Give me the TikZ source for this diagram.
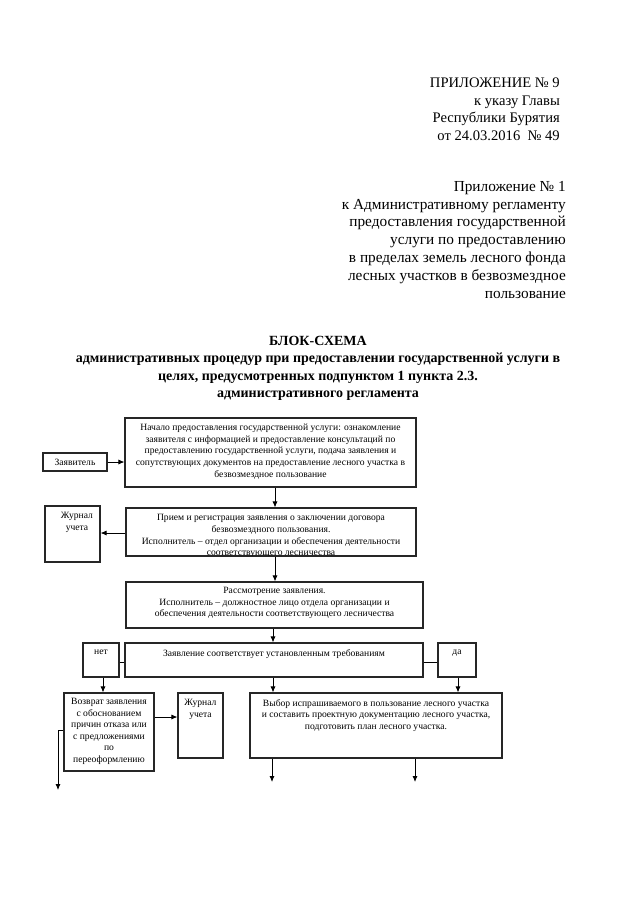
\documentclass[tikz,border=0pt]{standalone}
\usepackage{fontspec}
\setmainfont{Liberation Serif}
\usetikzlibrary{arrows.meta}
\begin{document}
\begin{tikzpicture}[x=1pt,y=1pt,
  box/.style={draw=black!85, line width=1.1pt, rectangle, inner sep=0pt},
  btxt/.style={font=\fontsize{9.6}{11.6}\selectfont, align=center, inner sep=0pt, anchor=north},
  arr/.style={line width=0.8pt, -{Latex[length=6pt,width=5pt]}},
  ln/.style={line width=0.8pt},
  hdr/.style={font=\fontsize{14.6}{17.5}\selectfont, align=right, inner sep=0pt, anchor=north east},
  hdrb/.style={font=\fontsize{15.3}{17.8}\selectfont, align=right, inner sep=0pt, anchor=north east},
  ttl/.style={font=\bfseries\fontsize{14}{17.3}\selectfont, align=center, inner sep=0pt, anchor=north}]
\useasboundingbox (0,0) rectangle (640,-905);
\fill[white] (0,0) rectangle (640,-905);

% header
\node[hdr] (h1) at (560,-78) {ПРИЛОЖЕНИЕ № 9\\к указу Главы\\Республики Бурятия\\от 24.03.2016~~№ 49};
\node[hdrb] (h2) at (566,-181) {Приложение № 1\\к Административному регламенту\\предоставления государственной\\услуги по предоставлению\\в пределах земель лесного фонда\\лесных участков в безвозмездное\\пользование};

% title
\node[ttl] (t) at (318,-336) {БЛОК-СХЕМА\\административных процедур при предоставлении государственной услуги в\\целях, предусмотренных подпунктом 1 пункта 2.3.\\административного регламента};

% boxes
\node[box, minimum width=64, minimum height=18] (zaj) at (75,-462) {};
\node[btxt, anchor=center] (zajt) at (zaj.center) {Заявитель};

\node[box, minimum width=291, minimum height=69] (b1) at (270.5,-452.5) {};
\node[btxt] (b1t) at (270.5,-424) {Начало предоставления государственной услуги: ознакомление\\заявителя с информацией и предоставление консультаций по\\предоставлению государственной услуги, подача заявления и\\сопутствующих документов на предоставление лесного участка в\\безвозмездное пользование};

\node[box, minimum width=55, minimum height=56] (jr1) at (72.5,-534) {};
\node[btxt] (jr1t) at (77,-512) {Журнал\\учета};

\node[box, minimum width=290, minimum height=48] (b2) at (271,-532) {};
\node[btxt] (b2t) at (271,-514.5) {Прием и регистрация заявления о заключении договора\\безвозмездного пользования.\\Исполнитель – отдел организации и обеспечения деятельности\\соответствующего лесничества};
\fill[white] (b2.south west) ++(0.6,-0.6) rectangle ++(288.8,-8);
\draw[line width=1.1pt, draw=black!85] (b2.south west) -- (b2.south east);

\node[box, minimum width=297, minimum height=46] (b3) at (274.5,-605) {};
\node[btxt] (b3t) at (274.5,-587) {Рассмотрение заявления.\\Исполнитель – должностное лицо отдела организации и\\обеспечения деятельности соответствующего лесничества};

\node[box, minimum width=298, minimum height=34] (b4) at (274,-660) {};
\node[btxt] (b4t) at (274,-649) {Заявление соответствует установленным требованиям};

\node[box, minimum width=36, minimum height=34] (net) at (101,-660) {};
\node[btxt] (nett) at (101,-650) {нет};

\node[box, minimum width=38, minimum height=34] (da) at (457,-660) {};
\node[btxt] (dat) at (457,-650) {да};

\node[box, minimum width=90, minimum height=78] (vz) at (109,-732) {};
\node[btxt] (vzt) at (109,-698) {Возврат заявления\\с обоснованием\\причин отказа или\\с предложениями\\по\\переоформлению};

\node[box, minimum width=45, minimum height=65] (jr2) at (200.5,-725.5) {};
\node[btxt] (jr2t) at (200.5,-699) {Журнал\\учета};

\node[box, minimum width=252, minimum height=65] (vyb) at (376,-725.5) {};
\node[btxt] (vybt) at (376,-699) {Выбор испрашиваемого в пользование лесного участка\\и составить проектную документацию лесного участка,\\подготовить план лесного участка.};

% connectors
\draw[arr] (zaj.east) -- (b1.west |- zaj.east);
\draw[arr] (b1.south -| 275,0) -- (b2.north -| 275,0);
\draw[arr] (b2.west |- 0,-533) -- (jr1.east |- 0,-533);
\draw[arr] (b2.south -| 275,0) -- (b3.north -| 275,0);
\draw[arr] (b3.south -| 273,0) -- (b4.north -| 273,0);
\draw[ln] (net.east |- 0,-662) -- (b4.west |- 0,-662);
\draw[ln] (b4.east |- 0,-662) -- (da.west |- 0,-662);
\draw[arr] (net.south -| 103,0) -- (vz.north -| 103,0);
\draw[arr] (b4.south -| 273,0) -- (vyb.north -| 273,0);
\draw[arr] (da.south -| 458,0) -- (vyb.north -| 458,0);
\draw[arr] (vz.east |- 0,-717) -- (jr2.west |- 0,-717);
\coordinate (e1) at (58,-790);
\draw[arr] (vz.west |- 0,-730) -| (e1);
\coordinate (e2) at (272,-782);
\coordinate (e3) at (415,-782);
\draw[arr] (vyb.south -| e2) -- (e2);
\draw[arr] (vyb.south -| e3) -- (e3);
\end{tikzpicture}
\end{document}
